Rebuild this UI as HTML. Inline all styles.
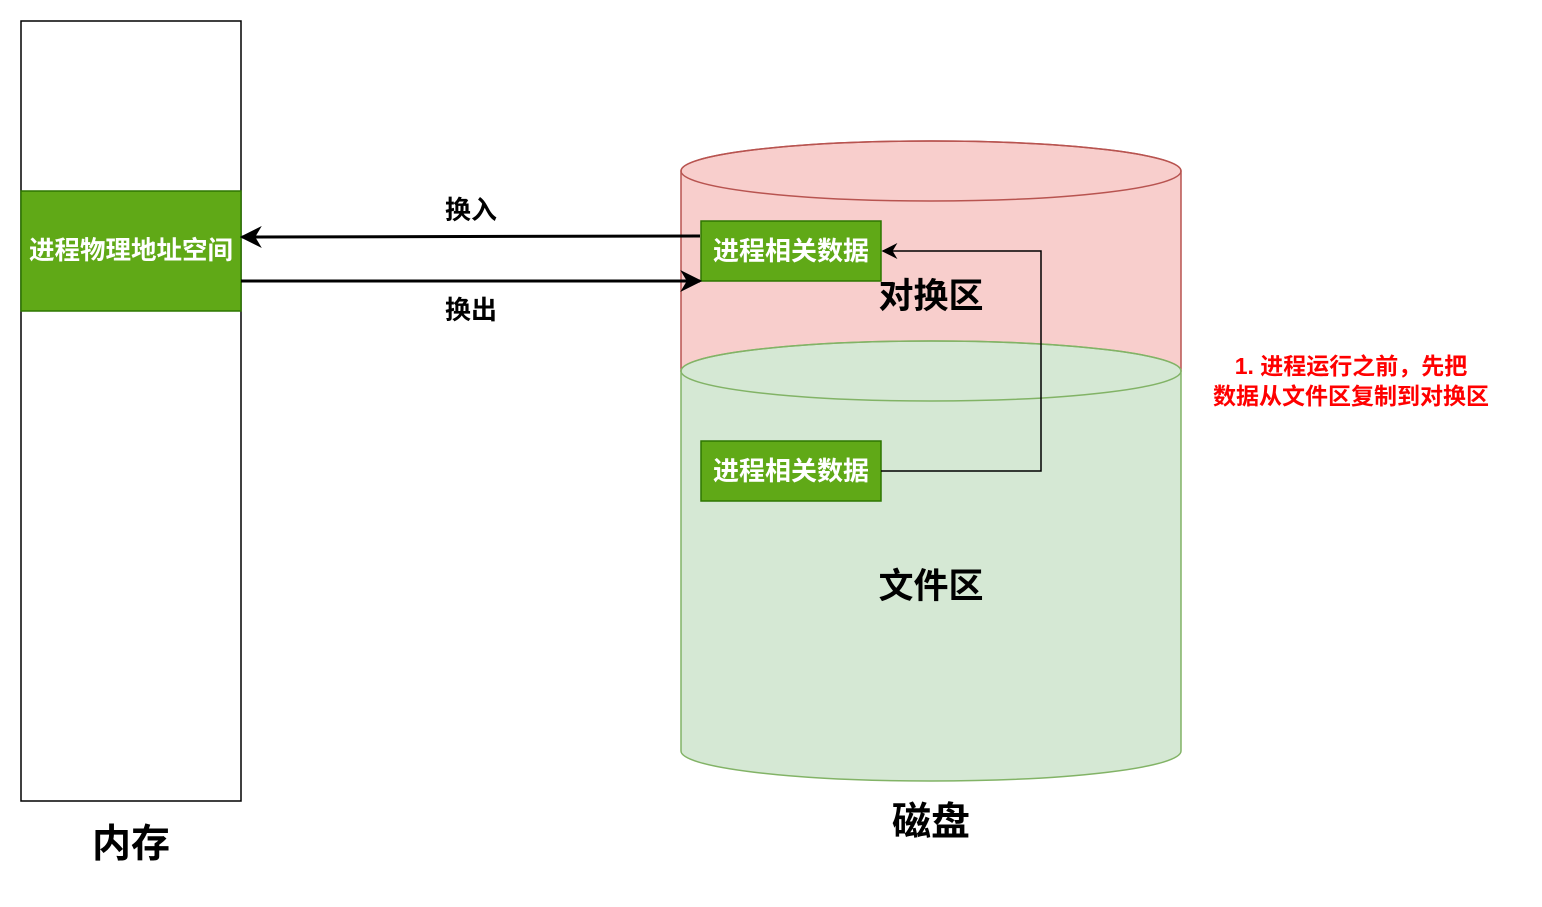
<!DOCTYPE html>
<html><head><meta charset="utf-8"><style>
body{margin:0;background:#fff;width:1542px;height:902px;overflow:hidden}
svg text{font-family:"Liberation Sans","Noto Sans CJK SC",sans-serif;font-weight:bold}
</style></head><body>
<svg width="1542" height="902" viewBox="0 0 1542 902" xmlns="http://www.w3.org/2000/svg">
<defs>
<marker id="a" viewBox="0 0 10 10" refX="9" refY="5" markerWidth="22" markerHeight="22" markerUnits="userSpaceOnUse" orient="auto"><path d="M0,0 L10,5 L0,10 L3,5z" fill="#000"/></marker>
<marker id="b" viewBox="0 0 10 10" refX="9" refY="5" markerWidth="16" markerHeight="16" markerUnits="userSpaceOnUse" orient="auto"><path d="M0,0 L10,5 L0,10 L3,5z" fill="#000"/></marker>
</defs>
<rect x="21" y="21" width="220" height="780" fill="#fff" stroke="#000" stroke-width="1.5"/>
<rect x="21" y="191" width="220" height="120" fill="#60a917" stroke="#2d7600" stroke-width="1.5"/>
<text x="131" y="259" font-size="25.5" fill="#fff" text-anchor="middle">进程物理地址空间</text>
<text x="131" y="857" font-size="39" text-anchor="middle">内存</text>
<path d="M681,171 A250,30 0 0 1 1181,171 L1181,371 L681,371 Z" fill="#f8cecc" stroke="#b85450" stroke-width="1.5"/>
<ellipse cx="931" cy="171" rx="250" ry="30" fill="none" stroke="#b85450" stroke-width="1.5"/>
<path d="M681,371 A250,30 0 0 1 1181,371 L1181,751 A250,30 0 0 1 681,751 Z" fill="#d5e8d4" stroke="#82b366" stroke-width="1.5"/>
<ellipse cx="931" cy="371" rx="250" ry="30" fill="none" stroke="#82b366" stroke-width="1.5"/>
<text x="931" y="308" font-size="35" text-anchor="middle">对换区</text>
<text x="931" y="598" font-size="35" text-anchor="middle">文件区</text>
<text x="931" y="835" font-size="39" text-anchor="middle">磁盘</text>
<rect x="701" y="221" width="180" height="60" fill="#60a917" stroke="#2d7600" stroke-width="1.5"/>
<text x="791" y="260" font-size="26" fill="#fff" text-anchor="middle">进程相关数据</text>
<rect x="701" y="441" width="180" height="60" fill="#60a917" stroke="#2d7600" stroke-width="1.5"/>
<text x="791" y="480" font-size="26" fill="#fff" text-anchor="middle">进程相关数据</text>
<path d="M881,471 H1041 V251 H883" fill="none" stroke="#000" stroke-width="1.5" marker-end="url(#b)"/>
<path d="M700,236 L242,237" stroke="#000" stroke-width="3" marker-end="url(#a)"/>
<path d="M241,281 L700,281" stroke="#000" stroke-width="3" marker-end="url(#a)"/>
<text x="471" y="219" font-size="26" text-anchor="middle">换入</text>
<text x="471" y="319" font-size="26" text-anchor="middle">换出</text>
<text x="1351" y="374" font-size="23" fill="#ff0000" text-anchor="middle">1. 进程运行之前，先把</text>
<text x="1351" y="404" font-size="23" fill="#ff0000" text-anchor="middle">数据从文件区复制到对换区</text>
</svg>
</body></html>
